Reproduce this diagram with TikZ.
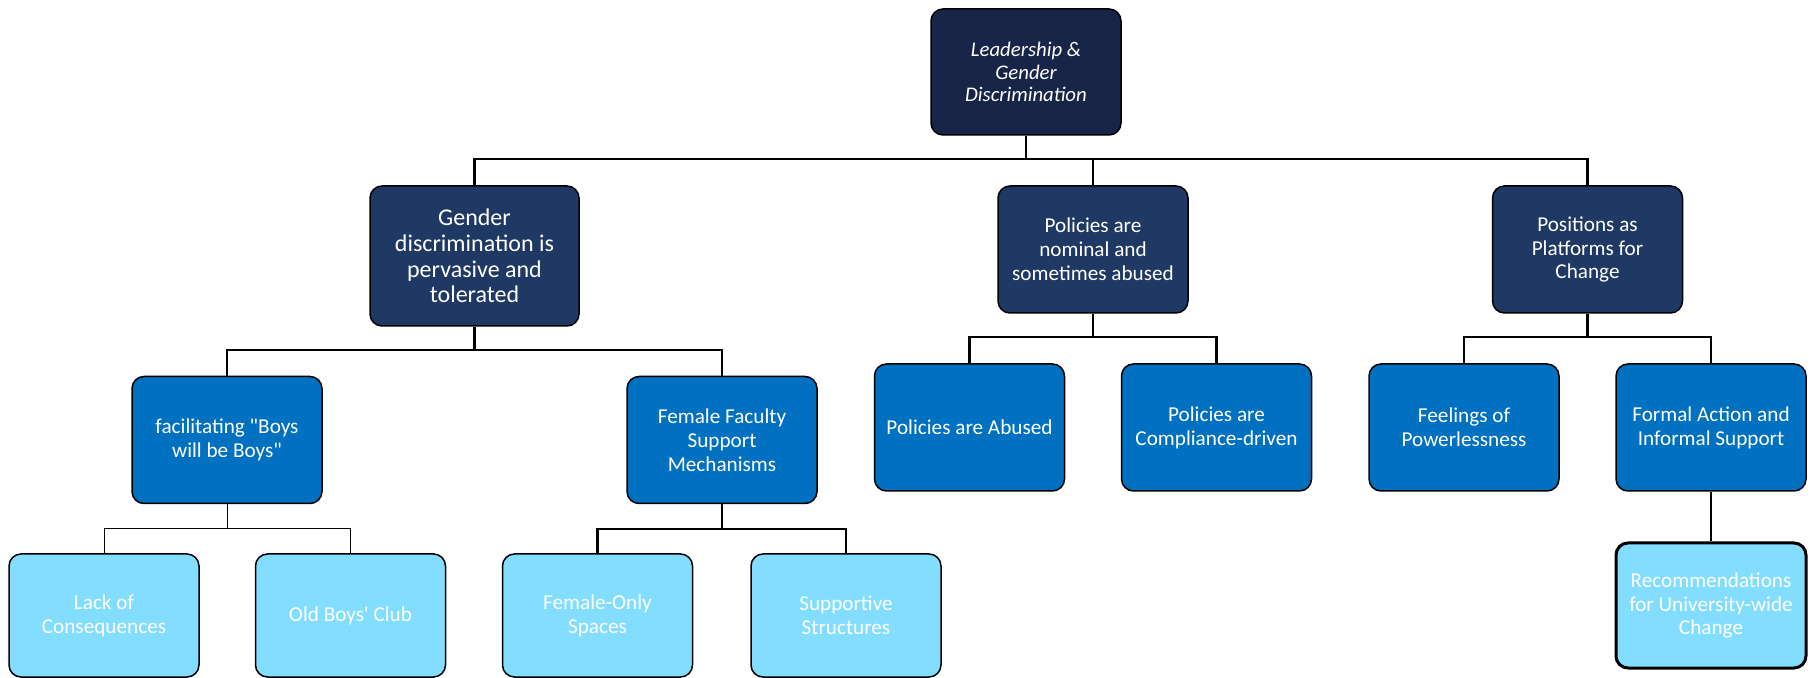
\documentclass[tikz,border=0pt]{standalone}
\usepackage{fontspec}
\setmainfont{Carlito}
\usepackage{xcolor}
\usepackage{tikz}
\usetikzlibrary{positioning}
\definecolor{RootC}{RGB}{24,37,72}
\definecolor{ThemeC}{RGB}{31,56,100}
\definecolor{SubC}{RGB}{0,112,192}
\definecolor{LeafC}{RGB}{131,221,255}
\tikzset{
  box/.style={rounded corners=6pt,draw=black,line width=0.75pt,text=white,
              align=center,inner sep=2pt,font=\fontsize{10.6}{11.9}\selectfont},
  rootbox/.style={box,fill=RootC,minimum width=95pt,minimum height=63pt,
                  font=\fontsize{10.4}{11.3}\selectfont\itshape},
  themebox/.style={box,fill=ThemeC,minimum width=95pt,minimum height=63.5pt,
                   font=\fontsize{12}{12.8}\selectfont},
  subbox/.style={box,fill=SubC,minimum width=95pt,minimum height=63.5pt},
  leafbox/.style={box,fill=LeafC,minimum width=95pt,minimum height=61.5pt},
  link/.style={line width=1.25pt,black},
  thinlink/.style={line width=0.5pt,black},
}
\begin{document}
\begin{tikzpicture}[x=0.5pt,y=-0.5pt]
  \useasboundingbox (0,0) rectangle (1811,678);

  % root
  \node[rootbox] (root) at (1026,72) {Leadership \&\\ Gender\\ Discrimination};

  % themes
  \node[themebox,minimum width=104.5pt,minimum height=70pt] (pervasive) at (474.5,256)
    {Gender\\ discrimination is\\ pervasive and\\ tolerated};
  \node[themebox,font=\fontsize{10.6}{11.9}\selectfont] (nominal) at (1093,249.5)
    {Policies are\\ nominal and\\ sometimes abused};
  \node[themebox,font=\fontsize{10.6}{11.9}\selectfont] (platforms) at (1587.5,249.5)
    {Positions as\\ Platforms for\\ Change};

  % sub-themes
  \node[subbox] (boys) at (227,440) {facilitating \textquotedbl Boys\\ will be Boys\textquotedbl};
  \node[subbox] (support) at (722,440) {Female Faculty\\ Support\\ Mechanisms};
  \node[subbox] (abused) at (969.5,427.5) {Policies are Abused};
  \node[subbox] (compliance) at (1216.5,427.5) {Policies are\\ Compliance-driven};
  \node[subbox] (powerless) at (1464,427.5) {Feelings of\\ Powerlessness};
  \node[subbox] (formal) at (1711,427.5) {Formal Action and\\ Informal Support};

  % leaves
  \node[leafbox] (lack) at (104,615.5) {Lack of\\ Consequences};
  \node[leafbox] (club) at (350.5,615.5) {Old Boys\textquotesingle\ Club};
  \node[leafbox] (spaces) at (597.5,615.5) {Female-Only\\ Spaces};
  \node[leafbox] (structures) at (846,615.5) {Supportive\\ Structures};
  \node[leafbox,line width=1.5pt,minimum height=62.5pt] (recommend) at (1711,605.5)
    {Recommendations\\ for University-wide\\ Change};

  % buses
  \coordinate (b0) at (1026,159);
  \coordinate (b1) at (474.5,350);
  \coordinate (b2) at (1093,337);
  \coordinate (b3) at (1587.5,337);
  \coordinate (b4) at (227,529);
  \coordinate (b5) at (722,529);

  % connectors
  \draw[link] (root.south) -- (b0);
  \foreach \c in {pervasive,nominal,platforms}
    \draw[link] (b0) -| (\c.north);
  \draw[link] (pervasive.south) -- (b1);
  \foreach \c in {boys,support}
    \draw[link] (b1) -| (\c.north);
  \draw[link] (nominal.south) -- (b2);
  \foreach \c in {abused,compliance}
    \draw[link] (b2) -| (\c.north);
  \draw[link] (platforms.south) -- (b3);
  \foreach \c in {powerless,formal}
    \draw[link] (b3) -| (\c.north);
  \draw[thinlink] (boys.south) -- (b4);
  \foreach \c in {lack,club}
    \draw[thinlink] (b4) -| (\c.north);
  \draw[link] (support.south) -- (b5);
  \foreach \c in {spaces,structures}
    \draw[link] (b5) -| (\c.north);
  \draw[link] (formal.south) -- (recommend.north);
\end{tikzpicture}
\end{document}
